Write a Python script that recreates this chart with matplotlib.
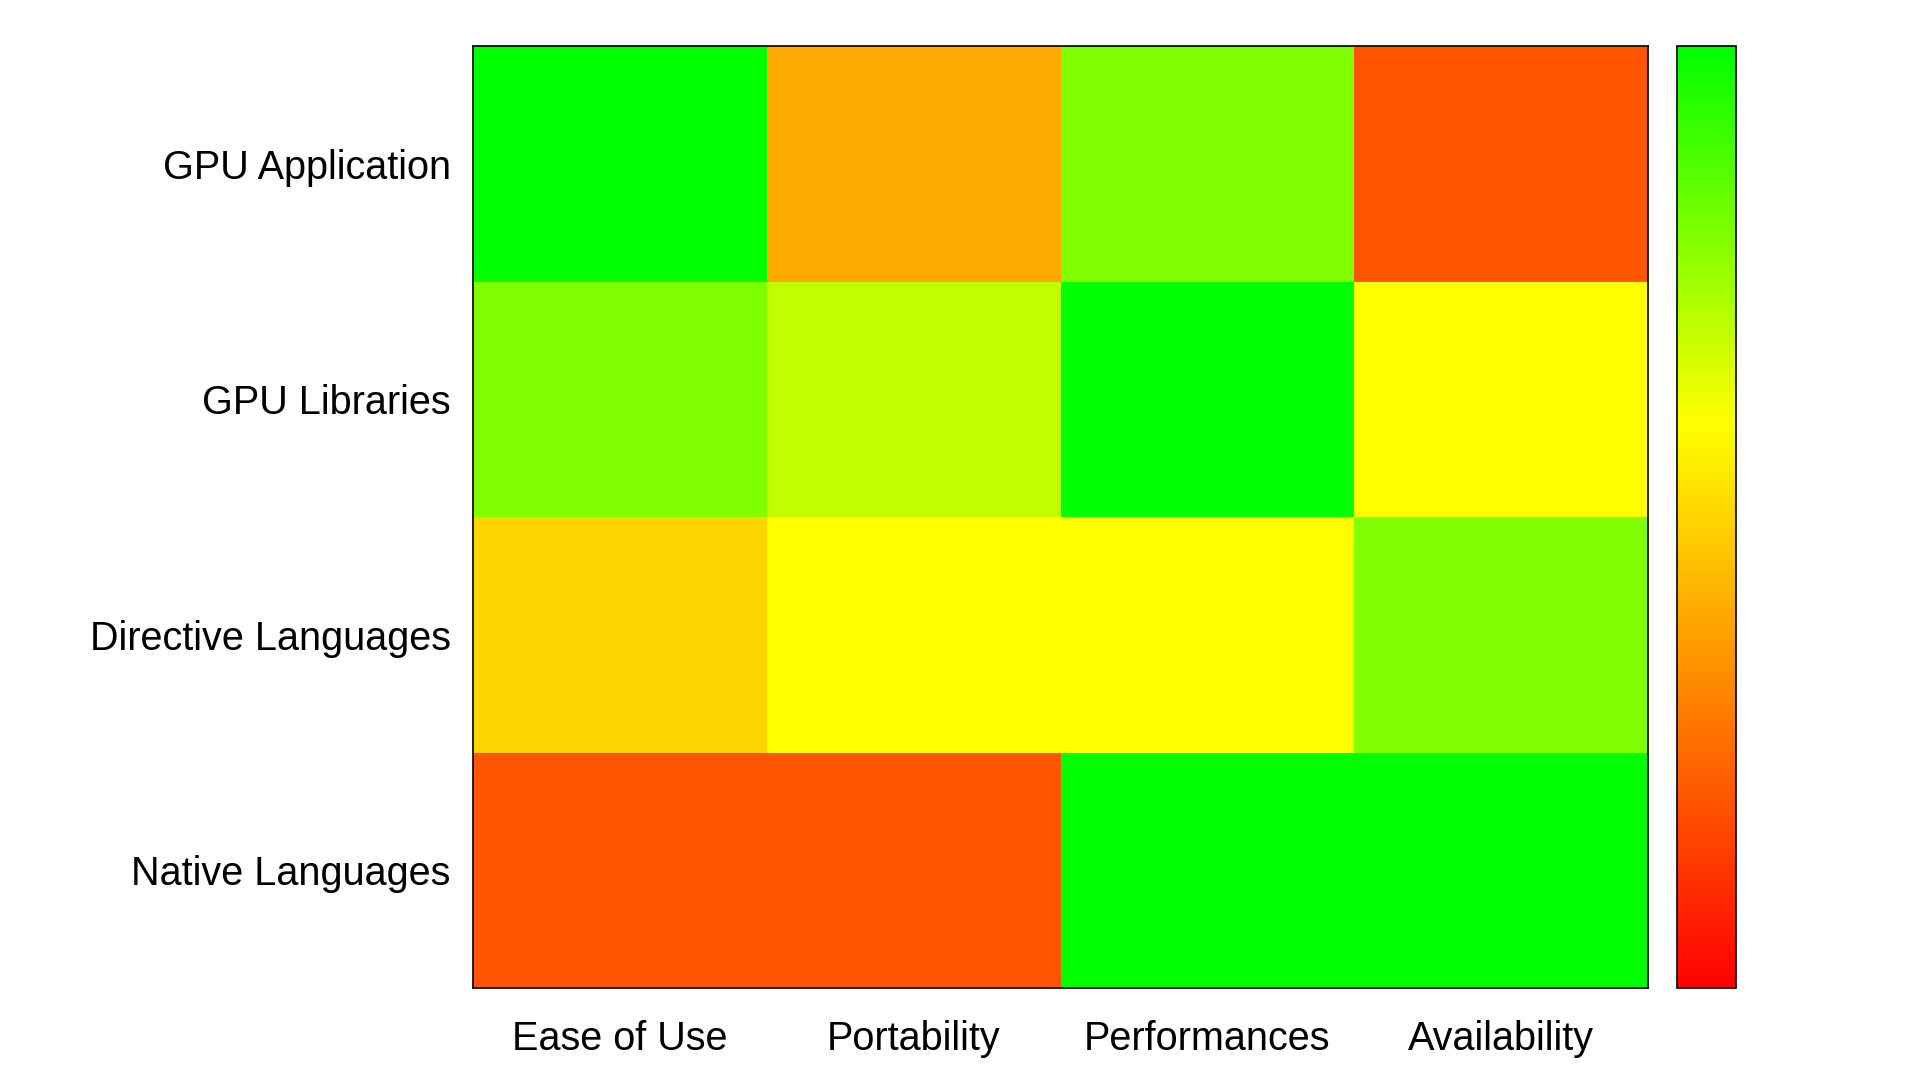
import numpy as np
import matplotlib
matplotlib.use("Agg")
import matplotlib.pyplot as plt
from matplotlib.colors import LinearSegmentedColormap

rows = ["GPU Application", "GPU Libraries", "Directive Languages", "Native Languages"]
cols = ["Ease of Use", "Portability", "Performances", "Availability"]
gpu_application = [5, 2, 4, 1]
gpu_libraries = [4, 3.5, 5, 3]
directive_languages = [2.5, 3, 3, 4]
native_languages = [1, 1, 5, 5]
vmin, vmax = 0, 5

plt.rcParams['font.family'] = ['Liberation Sans', 'DejaVu Sans']

data = np.array([gpu_application, gpu_libraries, directive_languages, native_languages])

cmap = LinearSegmentedColormap.from_list(
    "ryg", [(0.0, "#ff0000"), (0.6, "#ffff00"), (1.0, "#00ff00")], N=512)

fig = plt.figure(figsize=(19.2, 10.8), dpi=100)
W, H = 1920, 1080
ax = fig.add_axes([473 / W, (H - 988) / H, (1648 - 473) / W, (988 - 46) / H])
cax = fig.add_axes([1677 / W, (H - 988) / H, (1736 - 1677) / W, (988 - 46) / H])

mesh = ax.pcolormesh(np.arange(len(cols) + 1), np.arange(len(rows) + 1), data,
                     cmap=cmap, vmin=vmin, vmax=vmax)
ax.set_xlim(0, len(cols))
ax.set_ylim(len(rows), 0)
ax.set_xticks(np.arange(len(cols)) + 0.5)
ax.set_xticklabels(cols)
ax.set_yticks(np.arange(len(rows)) + 0.5)
ax.set_yticklabels(rows)
ax.tick_params(length=0, labelsize=28.5)
ax.tick_params(axis='y', pad=16)
ax.tick_params(axis='x', pad=23)
for s in ax.spines.values():
    s.set_linewidth(1.2)
    s.set_color('black')

cb = fig.colorbar(mesh, cax=cax)
cb.set_ticks([])
cb.outline.set_linewidth(1.2)
cb.outline.set_edgecolor('black')

fig.savefig("out.png", dpi=100, facecolor="white")
